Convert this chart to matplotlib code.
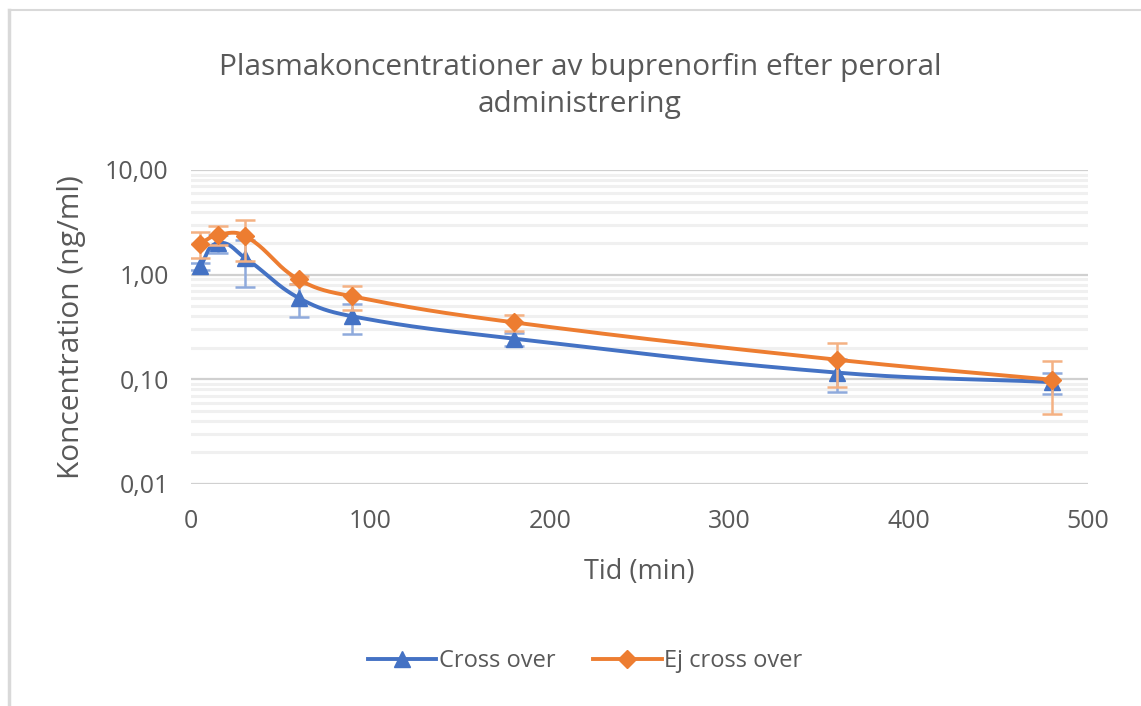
import numpy as np
import matplotlib
matplotlib.use("Agg")
import matplotlib.pyplot as plt
from matplotlib.lines import Line2D
from matplotlib.ticker import FixedLocator, FuncFormatter, NullFormatter

# ---- data ----
time_min = [5, 15, 30, 60, 90, 180, 360, 480]
cross_over = [1.20, 2.00, 1.45, 0.60, 0.40, 0.245, 0.116, 0.094]
cross_over_err = [0.10, 0.38, 0.68, 0.21, 0.13, 0.035, 0.040, 0.022]
ej_cross_over = [1.98, 2.40, 2.35, 0.90, 0.62, 0.35, 0.154, 0.099]
ej_cross_over_err = [0.55, 0.50, 1.00, 0.08, 0.16, 0.06, 0.070, 0.052]
series_names = ["Cross over", "Ej cross over"]
title = "Plasmakoncentrationer av buprenorfin efter peroral\nadministrering"
xlabel = "Tid (min)"
ylabel = "Koncentration (ng/ml)"
y_ticks = [0.01, 0.1, 1, 10]
x_ticks = [0, 100, 200, 300, 400, 500]

BLUE = "#4472C4"
ORANGE = "#ED7D31"
BLUE_ERR = "#8FAADC"
ORANGE_ERR = "#F4B183"
TXT = "#595959"
FONT = ["Open Sans", "DejaVu Sans"]

plt.rcParams["font.family"] = FONT

W, H = 1141, 706
AXW, AXH = 1088 - 191, 484 - 170
fig = plt.figure(figsize=(W / 100, H / 100), dpi=100)
ax = fig.add_axes([191 / W, 1 - 484 / H, AXW / W, AXH / H])
ax.set_yscale("log")
ax.set_xlim(0, 500)
ax.set_ylim(0.01, 10)

# grid
minor = [m * 10.0 ** e for e in range(-2, 1) for m in range(2, 10)]
ax.yaxis.set_major_locator(FixedLocator(y_ticks))
ax.yaxis.set_minor_locator(FixedLocator(minor))
ax.yaxis.set_minor_formatter(NullFormatter())
ax.yaxis.set_major_formatter(FuncFormatter(lambda v, p: f"{v:.2f}".replace(".", ",")))
ax.set_xticks(x_ticks)
ax.grid(True, which="major", axis="y", color="#D0D0D0", lw=1.6, zorder=0)
ax.grid(True, which="minor", axis="y", color="#F0F0F0", lw=2.2, zorder=0)
ax.set_axisbelow(True)
for s in ax.spines.values():
    s.set_visible(False)
ax.tick_params(axis="both", which="both", length=0, labelsize=18, labelcolor=TXT)
ax.tick_params(axis="y", pad=16)
ax.tick_params(axis="x", pad=18)


def smooth(xs, ys, n=40, k=0.4):
    # chord-length scaled cardinal spline in display-like coordinates (x linear, y log)
    px = np.array(xs, float) / 500.0 * AXW
    py = (np.log10(ys) + 2) / 3.0 * AXH
    P = np.column_stack([px, py])
    N = len(P)
    tang = []
    for i in range(N):
        a = P[max(i - 1, 0)]
        b = P[min(i + 1, N - 1)]
        d = b - a
        tang.append(d / np.linalg.norm(d))
    out = []
    for i in range(N - 1):
        p1, p2 = P[i], P[i + 1]
        L = np.linalg.norm(p2 - p1)
        c1 = p1 + tang[i] * L * k
        c2 = p2 - tang[i + 1] * L * k
        t = np.linspace(0, 1, n)[:, None]
        seg = ((1 - t) ** 3) * p1 + 3 * ((1 - t) ** 2) * t * c1 + 3 * (1 - t) * t ** 2 * c2 + t ** 3 * p2
        out.append(seg if i == 0 else seg[1:])
    out = np.vstack(out)
    return out[:, 0] / AXW * 500.0, 10 ** (out[:, 1] / AXH * 3 - 2)


specs = [
    (cross_over, cross_over_err, BLUE, BLUE_ERR, "^", 11, 2),
    (ej_cross_over, ej_cross_over_err, ORANGE, ORANGE_ERR, "D", 9, 5),
]
for vals, errs, col, ecol, mk, ms, z in specs:
    ax.errorbar(time_min, vals, yerr=errs, fmt="none", ecolor=ecol, elinewidth=1.8,
                capsize=7, capthick=1.8, zorder=z)
    sx, sy = smooth(time_min, vals)
    ax.plot(sx, sy, color=col, lw=2.8, zorder=z + 1, solid_capstyle="round")
    ax.plot(time_min, vals, ls="none", marker=mk, ms=ms, color=col, mec=col, zorder=z + 2)

fig.text(580 / W, 1 - 86 / H, title, ha="center", va="center", fontsize=21.5,
         color=TXT, linespacing=1.4)
ax.set_xlabel(xlabel, fontsize=19.5, color=TXT, labelpad=17)
ax.set_ylabel(ylabel, fontsize=21.5, color=TXT, labelpad=14)

handles = [
    Line2D([], [], color=BLUE, lw=2.8, marker="^", ms=11),
    Line2D([], [], color=ORANGE, lw=2.8, marker="D", ms=9),
]
fig.legend(handles, series_names, loc="center", bbox_to_anchor=(585 / W, 1 - 661 / H),
           ncol=2, frameon=False, fontsize=17, handlelength=2.9, handletextpad=0.1,
           columnspacing=1.6, labelcolor=TXT)

# chart border (top and left visible)
fig.add_artist(Line2D([9 / W, 1], [1 - 10 / H, 1 - 10 / H], color="#D9D9D9", lw=1.5,
                      transform=fig.transFigure))
fig.add_artist(Line2D([9 / W, 9 / W], [0, 1 - 10 / H], color="#D9D9D9", lw=2.5,
                      transform=fig.transFigure))

fig.savefig("out.png", dpi=100, facecolor="white")
